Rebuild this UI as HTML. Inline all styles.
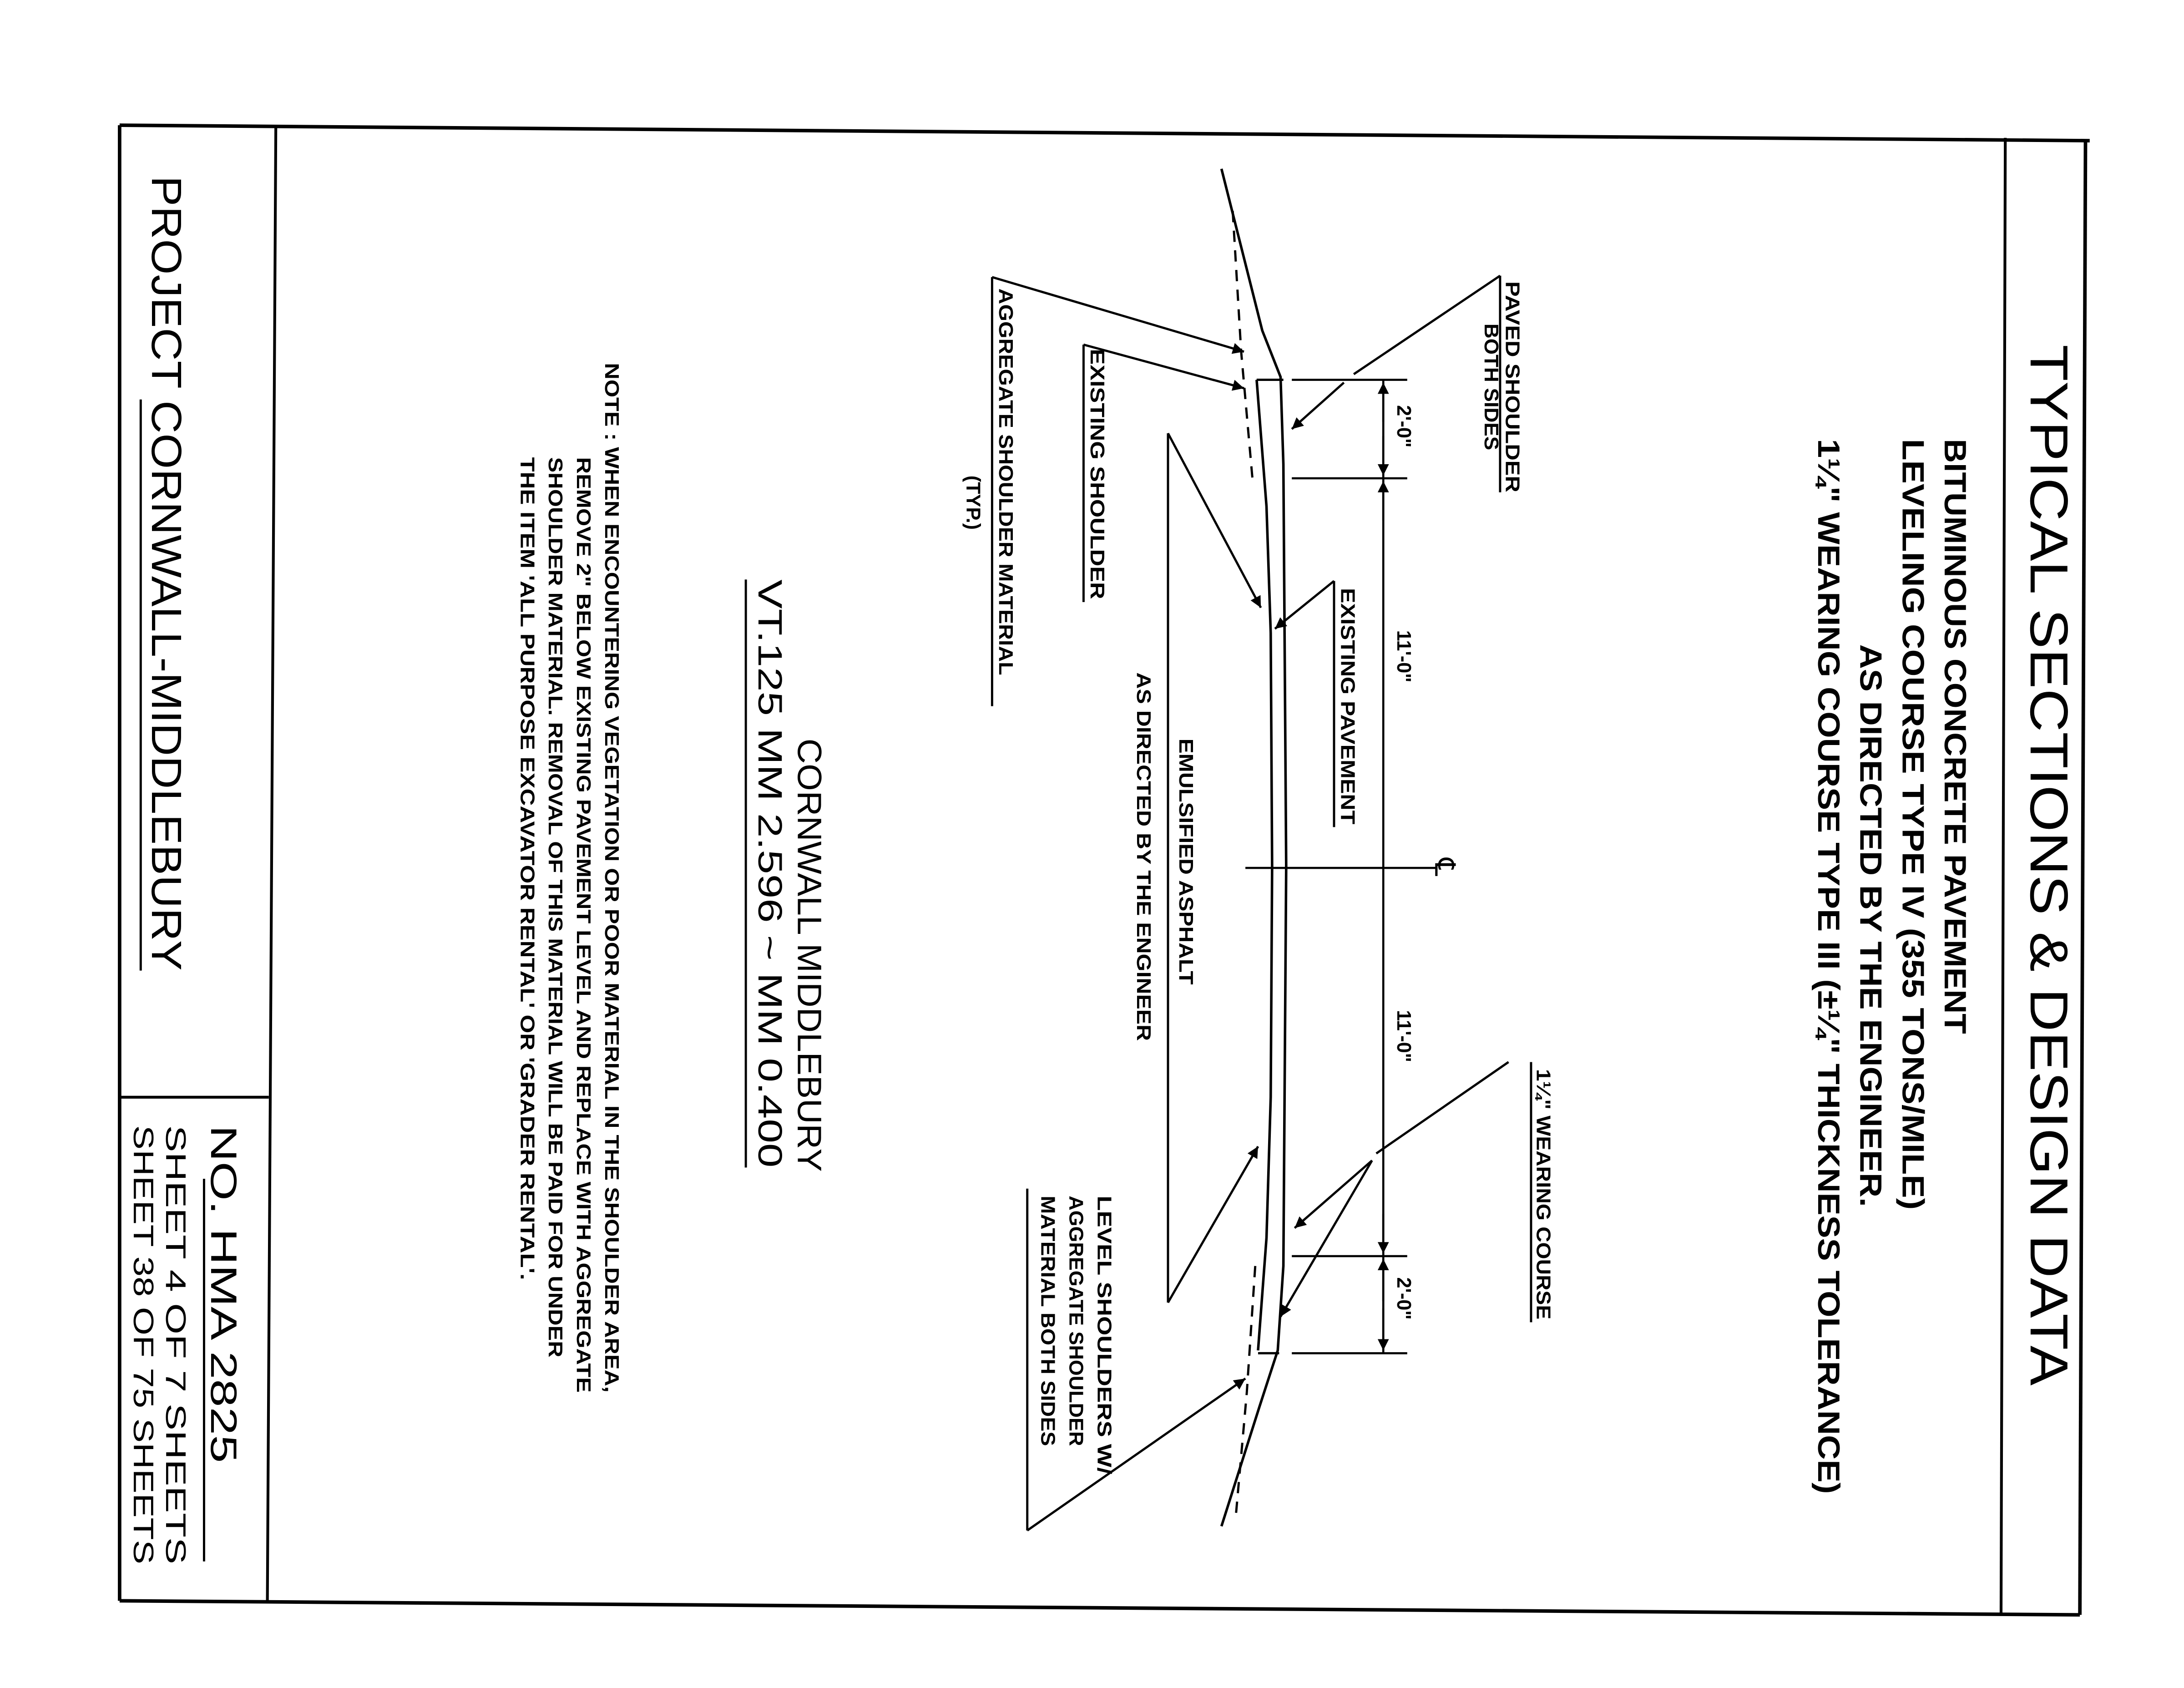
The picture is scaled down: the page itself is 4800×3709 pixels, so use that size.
<!DOCTYPE html>
<html><head><meta charset="utf-8">
<style>
html,body{margin:0;padding:0;background:#fff;}
svg{display:block;}
text{font-family:"Liberation Sans",sans-serif;fill:#000;}
.b{font-weight:bold;}
</style></head>
<body>
<svg width="4800" height="3709" viewBox="0 0 1552 1200" preserveAspectRatio="none" xmlns="http://www.w3.org/2000/svg">
<defs>
<marker id="ar" viewBox="0 0 10 10" refX="10" refY="5" markerWidth="14" markerHeight="8" markerUnits="userSpaceOnUse" orient="auto">
<path d="M0,0 L10,5 L0,10 z" fill="#000"/></marker>
</defs>
<rect width="1552" height="1200" fill="#fff"/>
<g stroke="#000" fill="none">
<line x1="85" y1="89" x2="1485" y2="100" stroke-width="2.5"/>
<line x1="85" y1="89" x2="85" y2="1138" stroke-width="2.5"/>
<line x1="85" y1="1138" x2="1478" y2="1148" stroke-width="2.5"/>
<line x1="1482" y1="100" x2="1478" y2="1148" stroke-width="2.5"/>
<line x1="196" y1="90" x2="190" y2="1138" stroke-width="2"/>
<line x1="85" y1="780" x2="191" y2="780" stroke-width="2"/>
<line x1="1425" y1="98" x2="1422" y2="1147" stroke-width="2"/>
<polyline points="868,120 897,235 910,268 912,330 914,616 912,900 908,960 895,1000 868,1085" stroke-width="1.8"/>
<polyline points="893,270 900,360 903,450 904,616 903,780 900,880 894,960" stroke-width="1.8"/>
<polyline points="876,150 882,250 890,340" stroke-width="1.6" stroke-dasharray="8,6"/>
<polyline points="892,900 886,990 878,1080" stroke-width="1.6" stroke-dasharray="8,6"/>
<line x1="893" y1="270" x2="912" y2="270" stroke-width="1.6"/>
<line x1="894" y1="962" x2="909" y2="962" stroke-width="1.6"/>
<line x1="983" y1="270" x2="983" y2="962" stroke-width="1.5"/>
<line x1="918" y1="270" x2="1000" y2="270" stroke-width="1.5"/>
<line x1="918" y1="340" x2="1000" y2="340" stroke-width="1.5"/>
<line x1="918" y1="893" x2="1000" y2="893" stroke-width="1.5"/>
<line x1="918" y1="962" x2="1000" y2="962" stroke-width="1.5"/>
<line x1="885" y1="617" x2="1020" y2="617" stroke-width="1.5"/>
<line x1="983" y1="300" x2="983" y2="272" marker-end="url(#ar)" stroke-width="1.5"/>
<line x1="983" y1="310" x2="983" y2="338" marker-end="url(#ar)" stroke-width="1.5"/>
<line x1="983" y1="370" x2="983" y2="342" marker-end="url(#ar)" stroke-width="1.5"/>
<line x1="983" y1="863" x2="983" y2="891" marker-end="url(#ar)" stroke-width="1.5"/>
<line x1="983" y1="925" x2="983" y2="895" marker-end="url(#ar)" stroke-width="1.5"/>
<line x1="983" y1="930" x2="983" y2="960" marker-end="url(#ar)" stroke-width="1.5"/>
<g stroke-width="1.6">
<line x1="1066" y1="196" x2="1066" y2="350"/>
<line x1="1066" y1="196" x2="962" y2="266"/>
<line x1="955" y1="272" x2="918" y2="305" marker-end="url(#ar)"/>
<line x1="948" y1="413" x2="948" y2="588"/>
<line x1="948" y1="413" x2="906" y2="447" marker-end="url(#ar)"/>
<line x1="770" y1="245" x2="770" y2="428"/>
<line x1="770" y1="245" x2="884" y2="276" marker-end="url(#ar)"/>
<line x1="705" y1="197" x2="705" y2="502"/>
<line x1="705" y1="197" x2="884" y2="250" marker-end="url(#ar)"/>
<line x1="830" y1="308" x2="830" y2="926"/>
<line x1="830" y1="308" x2="896" y2="432" marker-end="url(#ar)"/>
<line x1="830" y1="926" x2="894" y2="815" marker-end="url(#ar)"/>
<line x1="1088" y1="755" x2="1088" y2="940"/>
<line x1="1072" y1="755" x2="978" y2="820"/>
<line x1="975" y1="825" x2="920" y2="873" marker-end="url(#ar)"/>
<line x1="975" y1="825" x2="910" y2="936" marker-end="url(#ar)"/>
<line x1="730" y1="845" x2="730" y2="1088"/>
<line x1="730" y1="1088" x2="885" y2="980" marker-end="url(#ar)"/>
<line x1="530" y1="412" x2="530" y2="830"/>
<line x1="100" y1="284" x2="100" y2="690"/>
<line x1="145" y1="838" x2="145" y2="1110"/>
</g>
</g>
<g>
<text transform="translate(1443,245) rotate(90)" font-size="38" textLength="740" lengthAdjust="spacingAndGlyphs">TYPICAL SECTIONS &amp; DESIGN DATA</text>
<text class="b" transform="translate(1382,312) rotate(90)" font-size="22" textLength="423" lengthAdjust="spacingAndGlyphs">BITUMINOUS CONCRETE PAVEMENT</text>
<text class="b" transform="translate(1352,312) rotate(90)" font-size="22" textLength="548" lengthAdjust="spacingAndGlyphs">LEVELING COURSE TYPE IV (355 TONS/MILE)</text>
<text class="b" transform="translate(1322,458) rotate(90)" font-size="22" textLength="400" lengthAdjust="spacingAndGlyphs">AS DIRECTED BY THE ENGINEER.</text>
<text class="b" transform="translate(1292,312) rotate(90)" font-size="22" textLength="750" lengthAdjust="spacingAndGlyphs">1¼" WEARING COURSE TYPE III (±¼" THICKNESS TOLERANCE)</text>
<text class="b" transform="translate(1070,200) rotate(90)" font-size="14" textLength="150" lengthAdjust="spacingAndGlyphs">PAVED SHOULDER</text>
<text class="b" transform="translate(1055,230) rotate(90)" font-size="14" textLength="90" lengthAdjust="spacingAndGlyphs">BOTH SIDES</text>
<text class="b" transform="translate(993,288) rotate(90)" font-size="14">2'-0"</text>
<text class="b" transform="translate(993,448) rotate(90)" font-size="14">11'-0"</text>
<text class="b" transform="translate(993,718) rotate(90)" font-size="14">11'-0"</text>
<text class="b" transform="translate(993,908) rotate(90)" font-size="14">2'-0"</text>
<text transform="translate(1020,610) rotate(90)" font-size="20">℄</text>
<text class="b" transform="translate(953,418) rotate(90)" font-size="14" textLength="168" lengthAdjust="spacingAndGlyphs">EXISTING PAVEMENT</text>
<text class="b" transform="translate(1092,760) rotate(90)" font-size="14" textLength="178" lengthAdjust="spacingAndGlyphs">1¼" WEARING COURSE</text>
<text class="b" transform="translate(775,248) rotate(90)" font-size="14" textLength="178" lengthAdjust="spacingAndGlyphs">EXISTING SHOULDER</text>
<text class="b" transform="translate(710,205) rotate(90)" font-size="14" textLength="275" lengthAdjust="spacingAndGlyphs">AGGREGATE SHOULDER MATERIAL</text>
<text class="b" transform="translate(687,338) rotate(90)" font-size="14">(TYP.)</text>
<text class="b" transform="translate(838,525) rotate(90)" font-size="14" textLength="175" lengthAdjust="spacingAndGlyphs">EMULSIFIED ASPHALT</text>
<text class="b" transform="translate(808,478) rotate(90)" font-size="14" textLength="262" lengthAdjust="spacingAndGlyphs">AS DIRECTED BY THE ENGINEER</text>
<text class="b" transform="translate(780,850) rotate(90)" font-size="14" textLength="198" lengthAdjust="spacingAndGlyphs">LEVEL SHOULDERS W/</text>
<text class="b" transform="translate(760,850) rotate(90)" font-size="14" textLength="178" lengthAdjust="spacingAndGlyphs">AGGREGATE SHOULDER</text>
<text class="b" transform="translate(740,850) rotate(90)" font-size="14" textLength="178" lengthAdjust="spacingAndGlyphs">MATERIAL BOTH SIDES</text>
<text transform="translate(567,525) rotate(90)" font-size="24" textLength="308" lengthAdjust="spacingAndGlyphs">CORNWALL   MIDDLEBURY</text>
<text transform="translate(539,412) rotate(90)" font-size="24" textLength="418" lengthAdjust="spacingAndGlyphs">VT.125   MM 2.596 ~ MM 0.400</text>
<text class="b" transform="translate(430,258) rotate(90)" font-size="14" textLength="732" lengthAdjust="spacingAndGlyphs">NOTE : WHEN ENCOUNTERING VEGETATION OR POOR MATERIAL IN THE SHOULDER AREA,</text>
<text class="b" transform="translate(410,325) rotate(90)" font-size="14" textLength="665" lengthAdjust="spacingAndGlyphs">REMOVE 2" BELOW EXISTING PAVEMENT LEVEL AND REPLACE WITH AGGREGATE</text>
<text class="b" transform="translate(390,325) rotate(90)" font-size="14" textLength="640" lengthAdjust="spacingAndGlyphs">SHOULDER MATERIAL. REMOVAL OF THIS MATERIAL WILL BE PAID FOR UNDER</text>
<text class="b" transform="translate(370,325) rotate(90)" font-size="14" textLength="585" lengthAdjust="spacingAndGlyphs">THE ITEM 'ALL PURPOSE EXCAVATOR RENTAL' OR 'GRADER RENTAL'.</text>
<text transform="translate(108,125) rotate(90)" font-size="30" textLength="565" lengthAdjust="spacingAndGlyphs">PROJECT CORNWALL-MIDDLEBURY</text>
<text transform="translate(150,800) rotate(90)" font-size="26" textLength="240" lengthAdjust="spacingAndGlyphs">NO.  HMA 2825</text>
<text transform="translate(118,800) rotate(90)" font-size="20" textLength="312" lengthAdjust="spacingAndGlyphs">SHEET 4  OF  7 SHEETS</text>
<text transform="translate(95,800) rotate(90)" font-size="20" textLength="312" lengthAdjust="spacingAndGlyphs">SHEET 38 OF 75 SHEETS</text>
</g>
</svg>
</body></html>
